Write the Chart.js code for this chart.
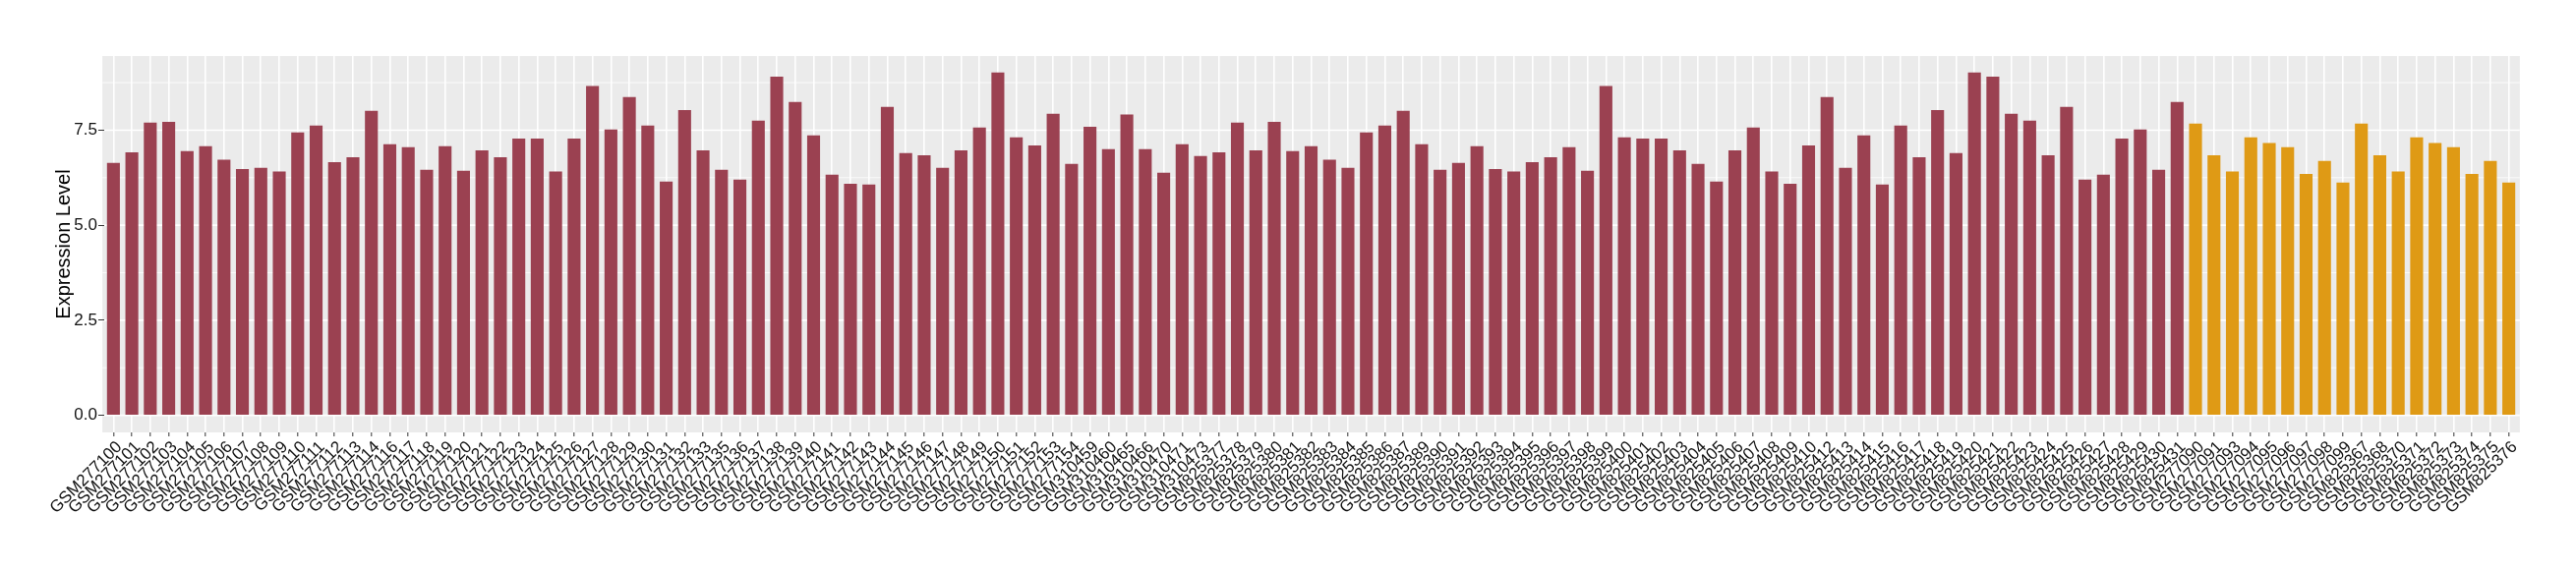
<!DOCTYPE html>
<html>
<head>
<meta charset="utf-8">
<script src="https://cdn.jsdelivr.net/npm/chart.js@4.4.1/dist/chart.umd.min.js"></script>
<style>html,body{margin:0;padding:0;background:#ffffff;}canvas{display:block;}</style>
</head>
<body>
<canvas id="c" width="2620" height="580"></canvas>
<script>
const samples = [
  "GSM277100","GSM277101","GSM277102","GSM277103","GSM277104","GSM277105","GSM277106","GSM277107","GSM277108","GSM277109",
  "GSM277110","GSM277111","GSM277112","GSM277113","GSM277114","GSM277116","GSM277117","GSM277118","GSM277119","GSM277120",
  "GSM277121","GSM277122","GSM277123","GSM277124","GSM277125","GSM277126","GSM277127","GSM277128","GSM277129","GSM277130",
  "GSM277131","GSM277132","GSM277133","GSM277135","GSM277136","GSM277137","GSM277138","GSM277139","GSM277140","GSM277141",
  "GSM277142","GSM277143","GSM277144","GSM277145","GSM277146","GSM277147","GSM277148","GSM277149","GSM277150","GSM277151",
  "GSM277152","GSM277153","GSM277154","GSM310459","GSM310460","GSM310465","GSM310466","GSM310470","GSM310471","GSM310473",
  "GSM825377","GSM825378","GSM825379","GSM825380","GSM825381","GSM825382","GSM825383","GSM825384","GSM825385","GSM825386",
  "GSM825387","GSM825389","GSM825390","GSM825391","GSM825392","GSM825393","GSM825394","GSM825395","GSM825396","GSM825397",
  "GSM825398","GSM825399","GSM825400","GSM825401","GSM825402","GSM825403","GSM825404","GSM825405","GSM825406","GSM825407",
  "GSM825408","GSM825409","GSM825410","GSM825412","GSM825413","GSM825414","GSM825415","GSM825416","GSM825417","GSM825418",
  "GSM825419","GSM825420","GSM825421","GSM825422","GSM825423","GSM825424","GSM825425","GSM825426","GSM825427","GSM825428",
  "GSM825429","GSM825430","GSM825431",
  "GSM277090","GSM277091","GSM277093","GSM277094","GSM277095","GSM277096","GSM277097","GSM277098","GSM277099",
  "GSM825367","GSM825368","GSM825370","GSM825371","GSM825372","GSM825373","GSM825374","GSM825375","GSM825376"
];

const expression = [
  6.64, 6.92, 7.70, 7.72, 6.95, 7.08, 6.72, 6.48, 6.51, 6.41,
  7.44, 7.62, 6.66, 6.79, 8.01, 7.13, 7.05, 6.46, 7.08, 6.43,
  6.97, 6.79, 7.28, 7.28, 6.41, 7.28, 8.66, 7.52, 8.37, 7.62,
  6.15, 8.03, 6.97, 6.46, 6.20, 7.75, 8.91, 8.24, 7.36, 6.33,
  6.09, 6.07, 8.11, 6.90, 6.84, 6.51, 6.97, 7.57, 9.02, 7.31,
  7.10, 7.93, 6.61, 7.59, 7.00, 7.91, 7.00, 6.38, 7.13, 6.82,
  6.92, 7.70, 6.97, 7.72, 6.95, 7.08, 6.72, 6.51, 7.44, 7.62,
  8.01, 7.13, 6.46, 6.64, 7.08, 6.48, 6.41, 6.66, 6.79, 7.05,
  6.43, 8.66, 7.31, 7.28, 7.28, 6.97, 6.61, 6.15, 6.97, 7.57,
  6.41, 6.09, 7.10, 8.37, 6.51, 7.36, 6.07, 7.62, 6.79, 8.03,
  6.90, 9.02, 8.91, 7.93, 7.75, 6.84, 8.11, 6.20, 6.33, 7.28,
  7.52, 6.46, 8.24,
  7.67, 6.84, 6.41, 7.31, 7.16, 7.05, 6.35, 6.69, 6.12,
  7.67, 6.84, 6.41, 7.31, 7.16, 7.05, 6.35, 6.69, 6.12
];

const groups = [
  "A","A","A","A","A","A","A","A","A","A","A","A","A","A","A","A","A","A","A","A",
  "A","A","A","A","A","A","A","A","A","A","A","A","A","A","A","A","A","A","A","A",
  "A","A","A","A","A","A","A","A","A","A","A","A","A","A","A","A","A","A","A","A",
  "A","A","A","A","A","A","A","A","A","A","A","A","A","A","A","A","A","A","A","A",
  "A","A","A","A","A","A","A","A","A","A","A","A","A","A","A","A","A","A","A","A",
  "A","A","A","A","A","A","A","A","A","A","A","A","A",
  "B","B","B","B","B","B","B","B","B","B","B","B","B","B","B","B","B","B"
];

const groupColors = { A: "#9B4151", B: "#DF9A15" };
const yMajorTicks = [0, 2.5, 5, 7.5];
const yMinorTicks = [1.25, 3.75, 6.25, 8.75];
const yAxisTitle = "Expression Level";
const FONT = "'Liberation Sans', Arial, Helvetica, sans-serif";

const panelPlugin = {
  id: "panel",
  beforeDraw(chart) {
    const { ctx, chartArea: a, scales } = chart;
    const y = scales.y;
    const ext = (a.right - a.left) / samples.length * 0.1;
    const L = a.left - ext, R = a.right + ext;
    ctx.save();
    ctx.fillStyle = "#EBEBEB";
    ctx.fillRect(L, a.top, R - L, a.bottom - a.top);
    ctx.strokeStyle = "#FFFFFF";
    ctx.lineWidth = 0.8;
    yMinorTicks.forEach(v => {
      const p = y.getPixelForValue(v);
      ctx.beginPath(); ctx.moveTo(L, p); ctx.lineTo(R, p); ctx.stroke();
    });
    ctx.lineWidth = 1.6;
    yMajorTicks.forEach(v => {
      const p = y.getPixelForValue(v);
      ctx.beginPath(); ctx.moveTo(L, p); ctx.lineTo(R, p); ctx.stroke();
    });
    ctx.restore();
  }
};

new Chart(document.getElementById("c"), {
  type: "bar",
  data: {
    labels: samples,
    datasets: [{
      data: expression,
      backgroundColor: groups.map(g => groupColors[g]),
      borderWidth: 0,
      barPercentage: 0.7,
      categoryPercentage: 1.0
    }]
  },
  options: {
    responsive: false,
    animation: false,
    devicePixelRatio: 1,
    layout: { padding: { left: 0, right: 59, top: 57, bottom: 0 } },
    plugins: { legend: { display: false }, tooltip: { enabled: false } },
    scales: {
      x: {
        type: "category",
        offset: true,
        grid: { offset: false, color: "#FFFFFF", lineWidth: 1.6, drawTicks: true, tickLength: 4, tickColor: "#333333", tickWidth: 1 },
        border: { display: false },
        ticks: {
          autoSkip: false, minRotation: 45, maxRotation: 45, padding: 1, labelOffset: 6,
          font: { family: FONT, size: 17 }, color: "#111111"
        },
        afterFit: s => { s.height = 140; }
      },
      y: {
        min: -0.45, max: 9.45,
        afterBuildTicks: s => { s.ticks = yMajorTicks.map(v => ({ value: v })); },
        grid: { drawOnChartArea: false, drawTicks: true, tickLength: 6, tickColor: "#333333", tickWidth: 1 },
        border: { display: false },
        ticks: {
          padding: 1, font: { family: FONT, size: 17 }, color: "#111111",
          callback: v => Number(v).toFixed(1)
        },
        title: {
          display: true, text: yAxisTitle, color: "#000000",
          font: { family: FONT, size: 20 }, padding: { top: 53, bottom: 0 }
        },
        afterFit: s => { s.width = 106; }
      }
    }
  },
  plugins: [panelPlugin]
});
</script>
</body>
</html>
